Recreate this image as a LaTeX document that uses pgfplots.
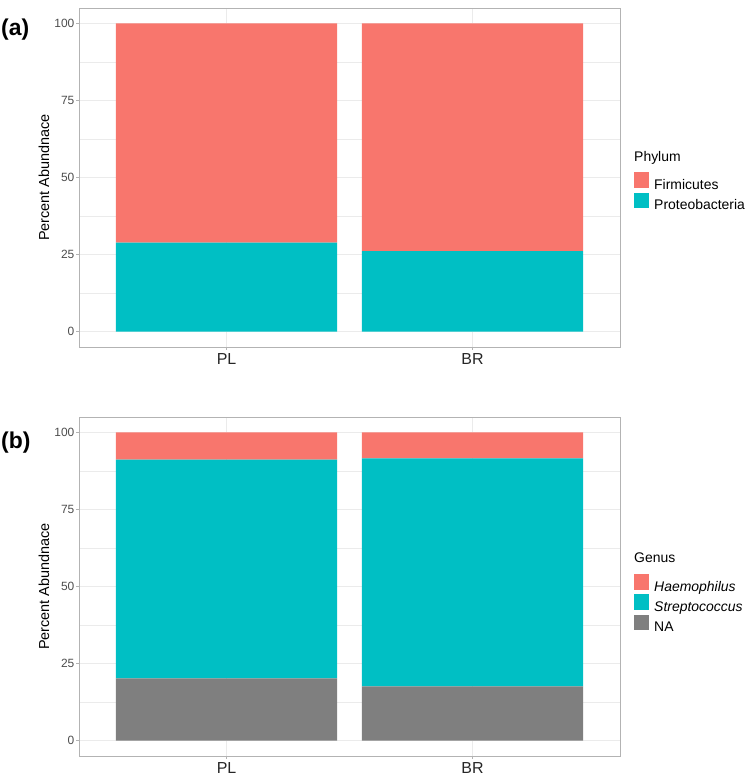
\documentclass[border=0pt]{standalone}
\usepackage{pgfplots}
\pgfplotsset{compat=1.18}
\usepackage{fontspec}
\setmainfont{Liberation Sans}
\definecolor{gred}{HTML}{F8766D}
\definecolor{gteal}{HTML}{00BFC4}
\definecolor{ggray}{HTML}{7F7F7F}
\definecolor{frame}{HTML}{B3B3B3}
\definecolor{gridc}{HTML}{EBEBEB}
\definecolor{tickc}{HTML}{4D4D4D}
\pgfplotsset{
  common/.style={
    scale only axis, width=541bp, height=339bp,
    anchor=south west,
    xmin=0.4, xmax=2.6, ymin=-5, ymax=105,
    xtick={1,2}, xticklabels={PL,BR},
    ytick={0,25,50,75,100},
    minor ytick={12.5,37.5,62.5,87.5},
    ymajorgrids, xmajorgrids, yminorgrids,
    major grid style={gridc, line width=0.8bp},
    minor grid style={gridc, line width=0.45bp},
    minor tick length=0pt,
    major tick length=3bp,
    tick align=outside,
    xtick pos=lower, ytick pos=left,
    every tick/.style={frame, line width=0.8bp},
    axis line style={frame, line width=0.9bp},
    /pgf/number format/assume math mode=true,
    yticklabel style={font=\fontsize{12}{14}\selectfont, text=tickc, inner sep=1.5bp},
    xticklabel style={font=\fontsize{16}{18}\selectfont, text=black!85},
    ylabel={Percent Abundnace},
    ylabel style={font=\fontsize{14.5}{16}\selectfont, at={(axis description cs:-0.0647,0.5)}, anchor=center},
    ybar stacked, bar width=0.9,
    every axis plot/.append style={draw=none},
    reverse legend,
    legend cell align=left,
    legend image code/.code={\fill[##1] (0bp,-3bp) rectangle (15bp,12.5bp);},
    legend style={draw=none, fill=none, inner sep=0pt, row sep=0pt,
      font=\fontsize{14}{16}\selectfont,
      nodes={inner sep=0pt, text height=12.5bp, text depth=3bp},
      /tikz/every odd column/.append style={column sep=5bp}},
  }
}
\begin{document}
\begin{tikzpicture}[x=1bp,y=1bp]
\useasboundingbox (0,0) rectangle (747,778);
% (a)
\begin{axis}[common, at={(79bp,431bp)},
  legend style={at={(rel axis cs:1.0259,0.516)}, anchor=north west}]
\addplot[fill=gteal] coordinates {(1,28.9) (2,26.1)};
\addplot[fill=gred] coordinates {(1,71.1) (2,73.9)};
\legend{Proteobacteria,Firmicutes}
\end{axis}
\node[anchor=base west, font=\fontsize{14}{16}\selectfont, inner sep=0pt] at (634,616) {Phylum};
\node[anchor=west, font=\fontsize{23}{26}\bfseries, inner sep=0pt] at (1,748) {(a)};
% (b)
\begin{axis}[common, at={(79bp,22bp)},
  legend style={at={(rel axis cs:1.0259,0.537)}, anchor=north west}]
\addplot[fill=ggray] coordinates {(1,20.2) (2,17.6)};
\addplot[fill=gteal] coordinates {(1,71.0) (2,74.0)};
\addplot[fill=gred] coordinates {(1,8.8) (2,8.4)};
\legend{NA,\textit{Streptococcus},\textit{Haemophilus}}
\end{axis}
\node[anchor=base west, font=\fontsize{14}{16}\selectfont, inner sep=0pt] at (634,215) {Genus};
\node[anchor=west, font=\fontsize{23}{26}\bfseries, inner sep=0pt] at (1,335) {(b)};
\end{tikzpicture}
\end{document}
